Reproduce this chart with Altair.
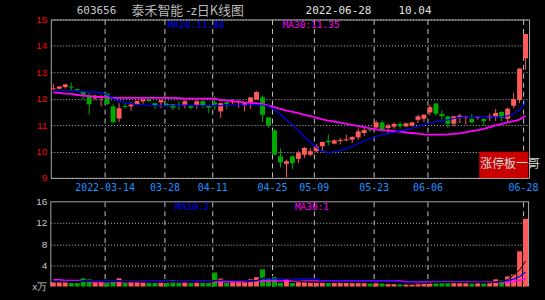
import altair as alt
import pandas as pd

# ---------------- data ----------------
opens = [12.35, 12.38, 12.44, 12.46, 12.36, 12.27, 12.08, 12.02, 12.05, 12.19,
         11.70, 11.25, 11.73, 11.71, 11.78, 11.90, 11.96, 11.83, 11.86, 11.80,
         11.79, 11.77, 11.75, 11.72, 11.77, 11.90, 11.72, 11.85, 11.52, 11.86,
         11.86, 11.86, 11.75, 11.86, 11.97, 12.05, 11.29, 10.80, 9.82, 9.53,
         9.82, 9.72, 9.88, 9.88, 10.01, 10.20, 10.41, 10.30, 10.40, 10.42,
         10.45, 10.54, 10.70, 10.84, 10.91, 11.10, 10.89, 10.94, 11.04, 10.95,
         10.98, 11.20, 11.24, 11.48, 11.82, 11.42, 11.33, 11.05, 11.28, 11.28,
         11.23, 11.28, 11.23, 11.28, 11.31, 11.50, 11.24, 11.73, 11.95, 13.53]
highs = [12.56, 12.47, 12.56, 12.61, 12.38, 12.30, 12.21, 12.15, 12.14, 12.22,
         11.79, 11.83, 11.86, 11.87, 11.93, 12.02, 12.00, 11.85, 11.96, 11.85,
         11.80, 11.90, 11.96, 11.75, 11.96, 11.96, 11.75, 12.09, 11.85, 11.90,
         11.98, 11.95, 11.86, 12.06, 12.28, 12.12, 11.29, 10.84, 10.11, 9.69,
         9.84, 10.01, 10.17, 10.12, 10.28, 10.38, 10.64, 10.46, 10.51, 10.64,
         10.58, 10.87, 10.89, 10.88, 11.17, 11.18, 11.04, 11.10, 11.14, 11.08,
         11.13, 11.38, 11.42, 11.77, 11.83, 11.56, 11.36, 11.35, 11.43, 11.36,
         11.43, 11.35, 11.26, 11.43, 11.61, 11.52, 11.67, 12.21, 13.15, 14.46]
lows = [12.33, 12.36, 12.39, 12.29, 12.28, 11.98, 11.38, 11.95, 11.71, 11.75,
        11.07, 11.11, 11.63, 11.55, 11.76, 11.81, 11.88, 11.62, 11.64, 11.70,
        11.57, 11.57, 11.64, 11.59, 11.62, 11.64, 11.45, 11.58, 11.27, 11.60,
        11.80, 11.66, 11.52, 11.62, 11.96, 11.11, 10.90, 9.87, 9.40, 9.02,
        9.34, 9.56, 9.76, 9.82, 9.98, 10.01, 10.22, 10.27, 10.27, 10.39,
        10.32, 10.45, 10.60, 10.75, 10.88, 10.73, 10.66, 10.86, 10.86, 10.93,
        10.94, 11.08, 11.11, 11.37, 11.36, 11.20, 10.89, 10.95, 11.08, 11.02,
        11.08, 11.20, 10.98, 11.15, 11.16, 11.14, 11.08, 11.64, 11.83, 13.10]
closes = [12.39, 12.46, 12.54, 12.44, 12.32, 12.15, 11.79, 12.11, 12.09, 11.80,
          11.11, 11.64, 11.70, 11.78, 11.91, 11.96, 11.91, 11.76, 11.94, 11.76,
          11.66, 11.75, 11.90, 11.66, 11.90, 11.75, 11.66, 11.78, 11.83, 11.80,
          11.90, 11.91, 11.83, 12.05, 12.25, 11.39, 11.00, 9.88, 9.59, 9.63,
          9.56, 9.94, 10.13, 10.01, 10.19, 10.36, 10.35, 10.42, 10.44, 10.46,
          10.55, 10.76, 10.81, 10.80, 11.10, 10.83, 10.98, 11.04, 10.96, 11.07,
          11.10, 11.33, 11.39, 11.68, 11.43, 11.34, 11.05, 11.33, 11.36, 11.33,
          11.10, 11.33, 11.15, 11.35, 11.46, 11.28, 11.62, 11.98, 13.14, 14.45]
volumes = [0.80, 0.80, 0.80, 0.65, 0.65, 1.55, 1.35, 0.80, 0.80, 0.65,
           1.15, 1.55, 0.65, 0.80, 0.80, 0.80, 0.65, 0.65, 0.80, 0.65,
           1.15, 0.65, 0.80, 0.65, 0.80, 0.65, 0.65, 2.65, 1.50, 0.65,
           0.80, 0.80, 0.80, 1.35, 1.75, 3.25, 1.50, 1.75, 0.70, 1.35,
           0.65, 0.80, 0.80, 0.75, 0.75, 0.75, 0.65, 0.75, 0.70, 0.70,
           0.70, 0.75, 0.70, 0.60, 0.75, 0.65, 0.45, 0.45, 0.45, 0.45,
           0.45, 0.70, 0.75, 0.80, 0.65, 0.65, 0.65, 0.75, 0.70, 0.70,
           0.60, 0.70, 0.60, 0.95, 1.35, 1.15, 1.90, 2.30, 6.65, 12.80]
ma10 = [12.32, 12.32, 12.32, 12.31, 12.29, 12.27, 12.26, 12.25, 12.23, 12.15,
        12.00, 11.90, 11.85, 11.82, 11.78, 11.77, 11.75, 11.74, 11.73, 11.73,
        11.74, 11.75, 11.76, 11.75, 11.74, 11.74, 11.74, 11.74, 11.74, 11.75,
        11.76, 11.76, 11.76, 11.76, 11.77, 11.76, 11.72, 11.58, 11.40, 11.20,
        11.00, 10.78, 10.55, 10.35, 10.15, 10.02, 9.97, 9.99, 10.04, 10.10,
        10.20, 10.30, 10.40, 10.48, 10.57, 10.64, 10.68, 10.73, 10.78, 10.82,
        10.88, 10.95, 11.02, 11.08, 11.13, 11.17, 11.20, 11.25, 11.29, 11.31,
        11.32, 11.32, 11.31, 11.31, 11.31, 11.32, 11.35, 11.42, 11.58, 11.86]
ma30 = [12.24, 12.22, 12.19, 12.18, 12.14, 12.12, 12.10, 12.08, 12.06, 12.05,
        12.03, 12.03, 12.03, 12.03, 12.03, 12.03, 12.03, 12.03, 12.03, 12.03,
        12.03, 12.02, 12.00, 12.00, 12.00, 12.00, 12.00, 12.00, 11.95, 11.93,
        11.91, 11.89, 11.86, 11.84, 11.82, 11.79, 11.74, 11.68, 11.61, 11.55,
        11.50, 11.45, 11.39, 11.34, 11.28, 11.22, 11.17, 11.13, 11.09, 11.05,
        11.01, 10.96, 10.92, 10.88, 10.84, 10.81, 10.79, 10.77, 10.75, 10.72,
        10.70, 10.68, 10.65, 10.64, 10.64, 10.64, 10.65, 10.67, 10.69, 10.73,
        10.77, 10.81, 10.86, 10.92, 10.99, 11.05, 11.10, 11.15, 11.21, 11.35]
vol_ma5 = [0.90, 0.90, 0.90, 0.90, 0.90, 0.95, 1.00, 1.00, 1.00, 0.95,
           0.95, 1.00, 0.95, 0.90, 0.90, 0.85, 0.80, 0.80, 0.80, 0.80,
           0.85, 0.85, 0.85, 0.80, 0.80, 0.80, 0.80, 1.10, 1.20, 1.20,
           1.20, 1.20, 1.00, 1.00, 1.10, 1.60, 1.80, 1.90, 1.80, 1.60,
           1.20, 1.10, 0.90, 0.85, 0.80, 0.80, 0.75, 0.75, 0.75, 0.75,
           0.72, 0.72, 0.72, 0.70, 0.70, 0.68, 0.62, 0.55, 0.50, 0.48,
           0.45, 0.50, 0.55, 0.62, 0.68, 0.70, 0.72, 0.72, 0.70, 0.70,
           0.68, 0.68, 0.66, 0.72, 0.85, 0.95, 1.30, 2.20, 3.10, 4.80]
vol_ma10 = [0.95, 0.95, 0.95, 0.95, 0.95, 1.10, 1.10, 1.10, 1.10, 1.10,
            1.10, 1.10, 0.95, 0.95, 0.95, 0.95, 0.95, 0.95, 0.95, 0.95,
            0.95, 0.95, 0.95, 0.95, 0.95, 0.95, 0.95, 1.10, 1.10, 1.10,
            1.10, 1.10, 1.10, 1.10, 1.10, 1.45, 1.45, 1.45, 1.45, 1.45,
            1.45, 1.45, 1.45, 1.45, 1.45, 1.00, 1.00, 1.00, 1.00, 1.00,
            1.00, 1.00, 1.00, 1.00, 1.00, 1.00, 1.00, 1.00, 0.85, 0.85,
            0.85, 0.85, 0.85, 0.85, 0.85, 0.85, 0.85, 0.85, 0.85, 0.85,
            0.85, 0.80, 0.80, 0.80, 0.80, 0.95, 1.10, 1.40, 1.90, 2.70]
vol_ma30 = [1.27, 1.27, 1.14, 1.14, 1.14, 1.14, 0.92, 0.92, 0.92, 0.92,
            0.92, 0.92, 0.92, 0.92, 0.92, 0.92, 0.92, 0.92, 0.92, 0.92,
            0.92, 0.92, 0.92, 0.92, 0.92, 0.92, 0.92, 0.92, 0.92, 0.92,
            0.92, 0.92, 0.92, 0.92, 1.05, 1.05, 1.05, 1.05, 1.05, 1.05,
            1.05, 1.05, 1.05, 1.05, 1.05, 1.05, 1.05, 1.05, 1.05, 1.05,
            1.05, 1.05, 1.05, 1.05, 1.05, 1.05, 1.05, 1.05, 1.05, 0.90,
            0.90, 0.90, 0.90, 0.90, 0.90, 0.90, 0.90, 0.90, 0.90, 0.90,
            0.90, 0.80, 0.80, 0.80, 0.80, 0.80, 0.80, 0.95, 1.15, 1.45]

tick_pos = [9, 19, 27, 37, 44, 54, 63, 79]
tick_labels = ["2022-03-14", "03-28", "04-11", "04-25", "05-09", "05-23", "06-06", "06-28"]
price_ticks = [9, 10, 11, 12, 13, 14, 15]
vol_ticks = [0, 4, 8, 12, 16]

code_text = "603656"
name_text = "泰禾智能 -z日K线图"
date_text = "2022-06-28"
price_text = "10.04"
ma10_text = "MA10:11.86"
ma30_text = "MA30:11.35"
vma10_text = "MA10:2"
vma30_text = "MA30:1"
badge_text = "涨停板一哥"

# ---------------- build ----------------
n = len(opens)
df = pd.DataFrame({
    "i": list(range(n)), "o": opens, "h": highs, "l": lows, "c": closes,
    "v": volumes, "ma10": ma10, "ma30": ma30,
    "vma5": vol_ma5, "vma10": vol_ma10, "vma30": vol_ma30,
})
one = pd.DataFrame({"k": [0]})

RED = "#ff5a5a"
GREEN = "#00a800"
GRID = "#c0c0c0"
FRAME = "#a8a8a8"
W, H1, H2 = 480, 159, 85

label_expr = " : ".join(f"datum.value == {p} ? '{t}'" for p, t in zip(tick_pos, tick_labels)) + " : ''"

xscale = alt.Scale(domain=[0, 80], nice=False, zero=False)
yscale = alt.Scale(domain=[9, 15], nice=False, zero=False)
vscale = alt.Scale(domain=[0, 16], nice=False, zero=False)

x_axis_main = alt.Axis(values=tick_pos, labelExpr=label_expr, grid=True, gridColor=GRID,
                       gridDash=[5, 4], gridWidth=1, ticks=False, domain=False,
                       labelColor="#1e90ff", labelFont="DejaVu Sans Mono", labelFontSize=10,
                       labelPadding=5, labelFlush=False, labelOverlap=False, title=None)
y_axis_main = alt.Axis(values=price_ticks, grid=True, gridColor=GRID, gridDash=[1, 2],
                       ticks=False, domain=False, labelColor="#ff0000",
                       labelFont="Liberation Sans", labelFontSize=10, labelPadding=4, title=None)
x_axis_vol = alt.Axis(values=tick_pos, labels=False, grid=True, gridColor=GRID,
                      gridDash=[5, 4], ticks=False, domain=False, title=None)
y_axis_vol = alt.Axis(values=vol_ticks, grid=True, gridColor=GRID, gridDash=[1, 2],
                      gridOpacity=alt.condition("datum.value == 0 || datum.value == 16", alt.value(0), alt.value(1)),
                      labelExpr="datum.value == 0 ? 'x万' : datum.label",
                      ticks=False, domain=False, labelColor="#c8c8c8",
                      labelFont="Liberation Sans", labelFontSize=10, labelPadding=4, title=None)

color_cond = alt.condition("datum.c >= datum.o", alt.value(RED), alt.value(GREEN))

base = alt.Chart(df).transform_calculate(
    x0="datum.i", x1="datum.i + 0.83", xc="datum.i + 0.42",
    top="max(datum.o, datum.c)",
    bot="min(max(datum.o, datum.c) - 0.04, min(datum.o, datum.c))",
    zero="0",
)

X = lambda f, ax: alt.X(f"{f}:Q", scale=xscale, axis=ax)

wicks = base.mark_rule(strokeWidth=1).encode(
    x=X("xc", x_axis_main), y=alt.Y("l:Q", scale=yscale, axis=y_axis_main), y2="h:Q", color=color_cond)
bodies = base.mark_rect().encode(
    x=X("x0", x_axis_main), x2="x1:Q", y=alt.Y("bot:Q", scale=yscale, axis=y_axis_main), y2="top:Q",
    color=color_cond)
line10 = base.mark_line(color="#0000ff", strokeWidth=1.2).encode(
    x=X("xc", x_axis_main), y=alt.Y("ma10:Q", scale=yscale, axis=y_axis_main))
line30 = base.mark_line(color="#ff00ff", strokeWidth=1.8).encode(
    x=X("xc", x_axis_main), y=alt.Y("ma30:Q", scale=yscale, axis=y_axis_main))


def label(txt, x, y, color, font, size):
    return alt.Chart(one).mark_text(text=txt, align="left", baseline="middle", color=color,
                                    font=font, fontSize=size).encode(x=alt.value(x), y=alt.value(y))


badge_box = alt.Chart(one).mark_rect(color="#c80000").encode(
    x=alt.value(430), x2=alt.value(479.3), y=alt.value(132.7), y2=alt.value(159))
anchor_top = alt.Chart(one).mark_rule(strokeOpacity=0).encode(
    x=alt.value(-50), x2=alt.value(495), y=alt.value(-18))

main = alt.layer(
    wicks, bodies, line30, line10,
    label(code_text, 26, -8.5, "#c8c8c8", "DejaVu Sans Mono", 11),
    label(name_text, 81, -8.5, "#b8b8b8", "Noto Sans CJK SC", 13),
    label(date_text, 255.7, -8.5, "#e0e0e0", "DejaVu Sans Mono", 11),
    label(price_text, 349, -8.5, "#e0e0e0", "DejaVu Sans Mono", 11),
    label(ma10_text, 117.3, 6, "#0000ff", "DejaVu Sans Mono", 9.5),
    label(ma30_text, 232.7, 6, "#ff00ff", "DejaVu Sans Mono", 9.5),
    badge_box,
    label(badge_text, 431, 145.5, "#d8d8d8", "Noto Sans CJK SC", 12),
    anchor_top,
).properties(width=W, height=H1, view=alt.ViewBackground(stroke=FRAME, strokeWidth=1))

vbars = base.mark_rect().encode(
    x=X("x0", x_axis_vol), x2="x1:Q", y=alt.Y("v:Q", scale=vscale, axis=y_axis_vol), y2="zero:Q",
    color=color_cond)
vline5 = base.mark_line(color="#000000", strokeWidth=1).encode(
    x=X("xc", x_axis_vol), y=alt.Y("vma5:Q", scale=vscale, axis=y_axis_vol))
vline10 = base.mark_line(color="#0000ff", strokeWidth=1.2).encode(
    x=X("xc", x_axis_vol), y=alt.Y("vma10:Q", scale=vscale, axis=y_axis_vol))
vline30 = base.mark_line(color="#ff00ff", strokeWidth=1.6).encode(
    x=X("xc", x_axis_vol), y=alt.Y("vma30:Q", scale=vscale, axis=y_axis_vol))
frame_left = alt.Chart(one).mark_rule(color=FRAME).encode(x=alt.value(0), y=alt.value(0), y2=alt.value(H2))
frame_right = alt.Chart(one).mark_rule(color=FRAME).encode(x=alt.value(W - 0.5), y=alt.value(0), y2=alt.value(H2))
frame_top = alt.Chart(one).mark_rule(color=FRAME).encode(x=alt.value(0), x2=alt.value(W), y=alt.value(0))
anchor_bot = alt.Chart(one).mark_rule(strokeOpacity=0).encode(
    x=alt.value(-50), x2=alt.value(495), y=alt.value(H2 + 14))

vol = alt.layer(
    vbars, vline30, vline10, vline5,
    frame_left, frame_right, frame_top,
    label(vma10_text, 125, 5.3, "#0000ff", "DejaVu Sans Mono", 9.5),
    label(vma30_text, 245, 5.3, "#ff00ff", "DejaVu Sans Mono", 9.5),
    anchor_bot,
).properties(width=W, height=H2, view=alt.ViewBackground(strokeOpacity=0))

chart = alt.vconcat(main, vol, spacing=24, bounds="flush").properties(
    padding=0, background="#000000"
)

chart.save("out.html", embed_options={"renderer": "svg", "actions": False})
